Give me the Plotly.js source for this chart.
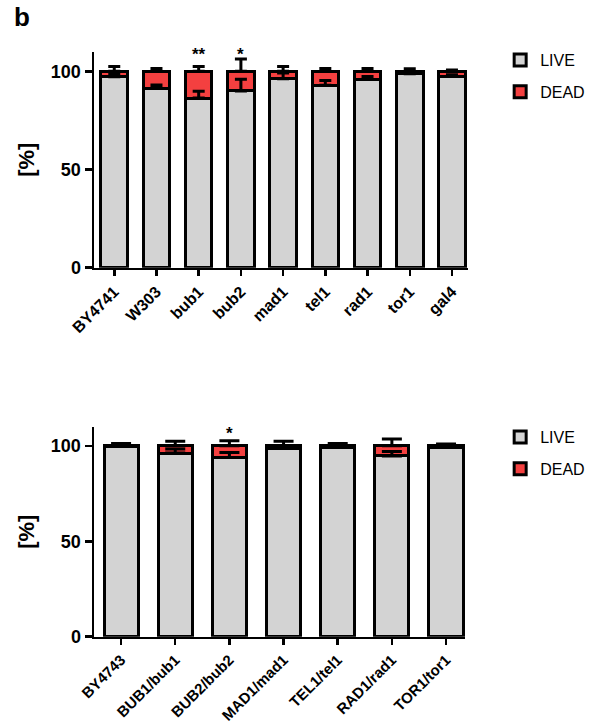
<!DOCTYPE html>
<html>
<head>
<meta charset="utf-8">
<script src="https://cdn.plot.ly/plotly-3.0.1.min.js"></script>
<style>html,body{margin:0;padding:0;background:#fff;}#chart{width:599px;height:724px;}</style>
</head>
<body>
<div id="chart"></div>
<script>
// ---- data: haploid strains (top panel) ----
var strainsTop = ["BY4741", "W303", "bub1", "bub2", "mad1", "tel1", "rad1", "tor1", "gal4"];
var liveTop    = [97.2, 91.5, 86.4, 90.0, 96.2, 92.9, 95.8, 98.8, 97.4];
var deadTop    = [2.8, 8.5, 13.6, 10.0, 3.8, 7.1, 4.2, 1.2, 2.6];
var liveSdTop  = [1.7, 1.6, 3.4, 6.0, 2.9, 2.4, 1.6, 0.8, 0.9];
var deadSdTop  = [2.5, 1.4, 2.5, 6.3, 2.5, 1.5, 1.5, 1.3, 0.7];
var starsTop   = ["", "", "**", "*", "", "", "", "", ""];

// ---- data: heterozygous diploids (bottom panel) ----
var strainsBot = ["BY4743", "BUB1/bub1", "BUB2/bub2", "MAD1/mad1", "TEL1/tel1", "RAD1/rad1", "TOR1/tor1"];
var liveBot    = [99.6, 96.2, 93.9, 98.8, 99.3, 94.7, 99.3];
var deadBot    = [0.4, 3.8, 6.1, 1.2, 0.7, 5.3, 0.7];
var liveSdBot  = [0.3, 2.1, 2.6, 1.0, 0.5, 2.3, 0.5];
var deadSdBot  = [1.2, 2.4, 2.6, 2.4, 1.2, 3.5, 1.0];
var starsBot   = ["", "", "*", "", "", "", ""];

var yTicks = [0, 50, 100];
var seriesNames = ["LIVE", "DEAD"];

// ---- styles ----
var FONT = "Arial, 'Liberation Sans', sans-serif";
var GREY = "#d3d3d3";
var RED = "#f44040";
var OUT = {color: "#000", width: 3};

function zeros(a) { return a.map(function () { return 0; }); }
function sum(a, b) { return a.map(function (v, i) { return v + b[i]; }); }

function panel(cats, live, dead, liveSd, deadSd, xa, ya, legendId, capW) {
  return [
    {type: "bar", name: seriesNames[0], x: cats, y: live, xaxis: xa, yaxis: ya,
     marker: {color: GREY, line: OUT}, legend: legendId, legendgroup: legendId + "a",
     hoverinfo: "skip"},
    {type: "bar", name: seriesNames[1], x: cats, y: dead, xaxis: xa, yaxis: ya,
     marker: {color: RED, line: OUT}, legend: legendId, legendgroup: legendId + "b",
     hoverinfo: "skip"},
    // error bars drawn above the bars
    {type: "scatter", mode: "markers", x: cats, y: live, xaxis: xa, yaxis: ya,
     marker: {size: 1, opacity: 0}, showlegend: false, hoverinfo: "skip",
     error_y: {type: "data", symmetric: false, array: liveSd, arrayminus: zeros(liveSd),
               color: "#000", thickness: 3, width: capW}},
    {type: "scatter", mode: "markers", x: cats, y: sum(live, dead), xaxis: xa, yaxis: ya,
     marker: {size: 1, opacity: 0}, showlegend: false, hoverinfo: "skip",
     error_y: {type: "data", symmetric: false, array: deadSd, arrayminus: zeros(deadSd),
               color: "#000", thickness: 3, width: capW}}
  ];
}

var data = [].concat(
  panel(strainsTop, liveTop, deadTop, liveSdTop, deadSdTop, "x", "y", "legend", 6),
  panel(strainsBot, liveBot, deadBot, liveSdBot, deadSdBot, "x2", "y2", "legend2", 10)
);

function xAxis(domain, range, anchor, fs) {
  return {domain: domain, range: range, anchor: anchor, type: "category",
          showline: true, linecolor: "#000", linewidth: 2.5, mirror: false,
          ticks: "outside", ticklen: 6, tickwidth: 2.5, tickcolor: "#000",
          tickangle: -45, showgrid: false, zeroline: false, automargin: false,
          tickfont: {family: FONT, size: fs, color: "#000", weight: "bold"}};
}
function yAxis(domain, anchor) {
  return {domain: domain, range: [0, 110], anchor: anchor,
          tickvals: yTicks, ticktext: yTicks.map(String),
          showline: true, linecolor: "#000", linewidth: 2.5,
          ticks: "outside", ticklen: 7, tickwidth: 2.5, tickcolor: "#000",
          showgrid: false, zeroline: false, automargin: false,
          tickfont: {family: FONT, size: 18, color: "#000", weight: "bold"},
          title: {text: "[%]", standoff: 10,
                  font: {family: FONT, size: 22, color: "#000", weight: "bold"}}};
}

var annotations = [
  {xref: "paper", yref: "paper", x: 12 / 599, y: 1 - 0 / 724, xanchor: "left", yanchor: "top",
   text: "b", showarrow: false, font: {family: FONT, size: 26, color: "#000", weight: "bold"}}
];
strainsTop.forEach(function (c, i) {
  if (starsTop[i]) annotations.push({xref: "x", yref: "y", x: c, y: 108.5, text: starsTop[i],
    showarrow: false, yanchor: "middle", font: {family: FONT, size: 17, color: "#000", weight: "bold"}});
});
strainsBot.forEach(function (c, i) {
  if (starsBot[i]) annotations.push({xref: "x2", yref: "y2", x: c, y: 106.5, text: starsBot[i],
    showarrow: false, yanchor: "middle", font: {family: FONT, size: 17, color: "#000", weight: "bold"}});
});

function legendCfg(y) {
  return {x: 0.835, y: y, xanchor: "left", yanchor: "top", traceorder: "grouped",
          bgcolor: "rgba(0,0,0,0)", borderwidth: 0, tracegroupgap: 8,
          font: {family: FONT, size: 16, color: "#000"}};
}

var layout = {
  width: 599, height: 724,
  margin: {l: 0, r: 0, t: 0, b: 0},
  paper_bgcolor: "#fff", plot_bgcolor: "#fff",
  barmode: "stack", bargap: 0.37,
  font: {family: FONT, color: "#000"},
  xaxis: xAxis([94 / 599, 468 / 599], [-0.48, 8.38], "y", 16),
  yaxis: yAxis([1 - 267.7 / 724, 1 - 51.7 / 724], "x"),
  xaxis2: xAxis([94 / 599, 465 / 599], [-0.5, 6.35], "y2", 15),
  yaxis2: yAxis([1 - 636.7 / 724, 1 - 426.7 / 724], "x2"),
  legend: legendCfg(1 - 43 / 724),
  legend2: legendCfg(1 - 420 / 724),
  annotations: annotations
};

Plotly.newPlot("chart", data, layout, {staticPlot: true, displayModeBar: false});
</script>
</body>
</html>
